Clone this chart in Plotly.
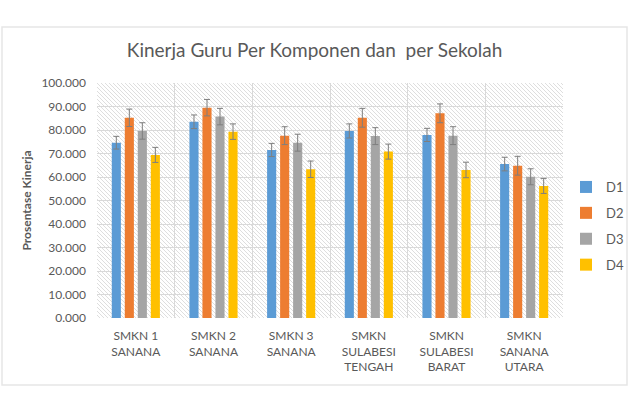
import plotly.graph_objects as go
import urllib.parse

categories = ["SMKN 1<br>SANANA", "SMKN 2<br>SANANA", "SMKN 3<br>SANANA",
              "SMKN<br>SULABESI<br>TENGAH", "SMKN<br>SULABESI<br>BARAT", "SMKN<br>SANANA<br>UTARA"]
series_names = ["D1", "D2", "D3", "D4"]
d1 = [74.6, 83.5, 71.5, 79.6, 77.9, 65.5]
d2 = [85.2, 89.5, 77.6, 85.2, 87.1, 64.8]
d3 = [79.6, 85.7, 74.6, 77.4, 77.6, 60.1]
d4 = [69.4, 79.3, 63.3, 70.8, 63.0, 56.2]
e1 = [2.7, 2.9, 2.8, 3.0, 2.8, 2.9]
e2 = [3.7, 3.5, 3.8, 4.0, 4.0, 4.0]
e3 = [3.5, 3.5, 3.6, 3.6, 3.8, 3.4]
e4 = [3.2, 3.3, 3.5, 3.2, 3.3, 3.2]
colors = ["#5B9BD5", "#ED7D31", "#A5A5A5", "#FFC000"]
y_ticks = [0, 10, 20, 30, 40, 50, 60, 70, 80, 90, 100]

W, H = 633, 397
L, R, T, B = 97, 70, 83, 79
pw, ph = W - L - R, H - T - B

FONT = "Lato"
TXT = "#595959"

fig = go.Figure()
for name, vals, errs, col in zip(series_names, [d1, d2, d3, d4], [e1, e2, e3, e4], colors):
    fig.add_trace(go.Bar(
        name=name, x=categories, y=vals, marker_color=col, marker_line_width=0,
        legendgroup=name,
        error_y=dict(type="data", array=errs, visible=True, color="#7F7F7F", thickness=1, width=3),
    ))

svg = (f'<svg xmlns="http://www.w3.org/2000/svg" width="{pw}" height="{ph}">'
       '<defs><pattern id="p" patternUnits="userSpaceOnUse" width="4" height="4">'
       '<path d="M-1,-1 L5,5 M-1,3 L1,5 M3,-1 L5,1" stroke="#d6d6d6" stroke-width="0.8"/>'
       '</pattern></defs>'
       f'<rect width="{pw}" height="{ph}" fill="url(#p)"/></svg>')
src = "data:image/svg+xml;charset=utf-8," + urllib.parse.quote(svg)

def px(xp):
    return (xp - L) / pw

def py(yp):
    return (H - B - yp) / ph

fig.update_layout(
    width=W, height=H,
    margin=dict(l=L, r=R, t=T, b=B, autoexpand=False),
    paper_bgcolor="white", plot_bgcolor="rgba(0,0,0,0)",
    font=dict(family=FONT, color=TXT, size=12),
    title=dict(text="Kinerja Guru Per Komponen dan  per Sekolah", x=0.497, xref="container",
               xanchor="center", y=1 - 50 / H, yanchor="middle",
               font=dict(family=FONT, size=19, color=TXT)),
    barmode="group", bargap=0.33, bargroupgap=0.3,
    xaxis=dict(type="category", tickson="boundaries", showgrid=True, gridcolor="#D9D9D9",
               ticks="", showline=False, tickfont=dict(size=12, color=TXT), fixedrange=True,
               ticklabelstandoff=9),
    yaxis=dict(range=[0, 100], tickvals=y_ticks, tickformat=".3f", showgrid=True,
               gridcolor="#D9D9D9", zeroline=False, showline=False, ticks="",
               ticklabelstandoff=10,
               tickfont=dict(size=12, color=TXT),
               title=dict(text="<b>Prosentase Kinerja</b>", font=dict(size=12, color=TXT), standoff=7)),
    legend=dict(xref="container", yref="container", x=566 / W, xanchor="left",
                y=(H - 226) / H, yanchor="middle", itemwidth=30,
                font=dict(size=13, color=TXT), tracegroupgap=6, traceorder="grouped",
                bgcolor="rgba(0,0,0,0)"),
    images=[dict(source=src, xref="paper", yref="paper", x=0, y=1, sizex=1, sizey=1,
                 sizing="stretch", layer="below", xanchor="left", yanchor="top")],
    shapes=[dict(type="rect", xref="paper", yref="paper",
                 x0=px(2), x1=px(627), y0=py(385), y1=py(27),
                 line=dict(color="#E6E6E6", width=1.5), fillcolor="rgba(0,0,0,0)", layer="below")],
)

fig.write_html("out.html")
